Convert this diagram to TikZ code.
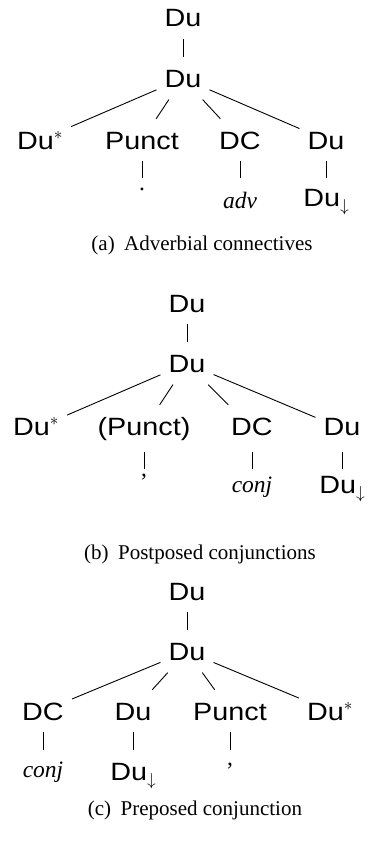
\documentclass[tikz,border=0pt]{standalone}
\usepackage{fontspec}
\setmainfont{Liberation Serif}
\newfontfamily\treefont[FakeStretch=1.15]{Liberation Sans}
\usetikzlibrary{positioning}

\newcommand{\dnarr}{\raisebox{-5pt}{\fontsize{19}{19}\selectfont$\downarrow$}}

\begin{document}
\begin{tikzpicture}[
    x=1pt, y=-1pt,
    node distance=17pt,
    lbl/.style={font=\treefont\fontsize{25}{30}\selectfont, inner xsep=8pt, inner ysep=0pt, text height=30pt, text depth=12pt},
    leaf/.style={font=\fontsize{23.5}{28}\selectfont\itshape, inner sep=0pt, text depth=6pt},
    pleaf/.style={font=\fontsize{23.5}{28}\selectfont, inner sep=0pt, text depth=0pt},
    capt/.style={font=\fontsize{21}{25}\selectfont, anchor=base, inner sep=0pt},
    edge/.style={line width=0.9pt}
]
    \useasboundingbox (0,0) rectangle (368,843);

    % (a) adverbial connectives
    \node[lbl, anchor=base] (duA1) at (183,27) {Du};
    \node[lbl, below=18pt of duA1] (duA2) {Du};
    \node[lbl, anchor=base] (starA) at (40,149) {Du$^*$};
    \node[lbl, anchor=base] (puA) at (142,149) {Punct};
    \node[lbl, anchor=base] (dcA) at (240,149) {DC};
    \node[lbl, anchor=base] (duA3) at (326,149) {Du};
    \node[pleaf, anchor=base, text height=12pt] (dotA) at (142,190) {.};
    \node[leaf, anchor=base, text height=30pt] (advA) at (240,208) {adv};
    \node[lbl, anchor=base, text height=28pt] (duA4) at (326,206) {Du\dnarr};
    \node[capt] (capA) at (202,250) {(a)\hspace{0.45em}Adverbial connectives};

    \draw[edge] (duA1) -- (duA2);
    \draw[edge] (duA2) -- (starA);
    \draw[edge] (duA2) -- (puA);
    \draw[edge] (duA2) -- (dcA);
    \draw[edge] (duA2) -- (duA3);
    \draw[edge] (puA) -- (dotA);
    \draw[edge] (dcA) -- (advA);
    \draw[edge] (duA3) -- (duA4);

    % (b) postposed conjunctions
    \node[lbl, anchor=base] (duB1) at (187,312) {Du};
    \node[lbl, below=18pt of duB1] (duB2) {Du};
    \node[lbl, anchor=base, text depth=17pt] (starB) at (36,435) {Du$^*$};
    \node[lbl, anchor=base, text depth=17pt] (puB) at (144,435) {(Punct)};
    \node[lbl, anchor=base, text depth=17pt] (dcB) at (252,435) {DC};
    \node[lbl, anchor=base, text depth=17pt] (duB3) at (342,435) {Du};
    \node[pleaf, anchor=base, text height=7pt] (commaB) at (144,476) {,};
    \node[leaf, anchor=base, text height=23pt] (conjB) at (252,492) {conj};
    \node[lbl, anchor=base, text height=24pt] (duB4) at (342,493) {Du\dnarr};
    \node[capt] (capB) at (200,559) {(b)\hspace{0.45em}Postposed conjunctions};

    \draw[edge] (duB1) -- (duB2);
    \draw[edge] (duB2) -- (starB);
    \draw[edge] (duB2) -- (puB);
    \draw[edge] (duB2) -- (dcB);
    \draw[edge] (duB2) -- (duB3);
    \draw[edge] (puB) -- (commaB);
    \draw[edge] (dcB) -- (conjB);
    \draw[edge] (duB3) -- (duB4);

    % (c) preposed conjunction
    \node[lbl, anchor=base] (duC1) at (187,600) {Du};
    \node[lbl, below=18pt of duC1] (duC2) {Du};
    \node[lbl, anchor=base] (dcC) at (43,720) {DC};
    \node[lbl, anchor=base] (duC3) at (133,720) {Du};
    \node[lbl, anchor=base] (puC) at (230,720) {Punct};
    \node[lbl, anchor=base] (starC) at (330,720) {Du$^*$};
    \node[leaf, anchor=base, text height=27pt] (conjC) at (43,777) {conj};
    \node[lbl, anchor=base, text height=30pt] (duC4) at (133,780) {Du\dnarr};
    \node[pleaf, anchor=base, text height=15pt] (commaC) at (230,765) {,};
    \node[capt] (capC) at (195,815) {(c)\hspace{0.45em}Preposed conjunction};

    \draw[edge] (duC1) -- (duC2);
    \draw[edge] (duC2) -- (dcC);
    \draw[edge] (duC2) -- (duC3);
    \draw[edge] (duC2) -- (puC);
    \draw[edge] (duC2) -- (starC);
    \draw[edge] (dcC) -- (conjC);
    \draw[edge] (duC3) -- (duC4);
    \draw[edge] (puC) -- (commaC);
\end{tikzpicture}
\end{document}
